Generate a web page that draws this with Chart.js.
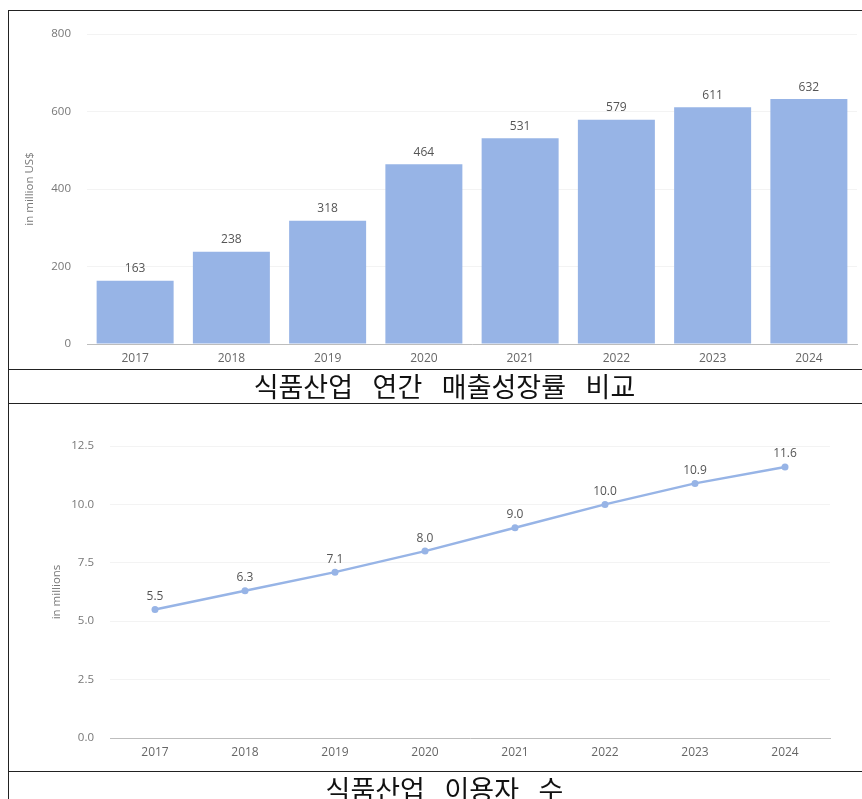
<!DOCTYPE html>
<html lang="ko">
<head>
<meta charset="utf-8">
<script src="https://cdn.jsdelivr.net/npm/chart.js@4/dist/chart.umd.min.js"></script>
<style>
  html, body { margin: 0; padding: 0; background: #fff; overflow: hidden; width: 862px; height: 799px; }
  .box { position: absolute; border-left: 1.5px solid #222; border-top: 1.5px solid #222; box-sizing: border-box; }
  .hline { position: absolute; left: 8px; width: 880px; height: 0; border-top: 1.5px solid #222; }
  .cell { position: absolute; left: 9px; width: 851px; }
  .caption { position: absolute; left: 9px; width: 871px; text-align: center;
             font-family: "Noto Sans CJK KR", sans-serif; font-size: 27px; color: #111;
             word-spacing: 12px; line-height: 34px; }
</style>
</head>
<body>
<div class="box" style="left:8px; top:10px; width:880px; height:800px;"></div>
<div class="hline" style="top:369px;"></div>
<div class="hline" style="top:403px;"></div>
<div class="hline" style="top:771px;"></div>

<div class="cell" style="top:11px; height:358px;"><canvas id="chartVentes"></canvas></div>
<div class="caption" style="top:369px;">식품산업 연간 매출성장률 비교</div>
<div class="cell" style="top:405px; height:366px;"><canvas id="chartUsers"></canvas></div>
<div class="caption" style="top:772px;">식품산업 이용자 수</div>

<script>
"use strict";

// ── données ──
const annees       = ["2017", "2018", "2019", "2020", "2021", "2022", "2023", "2024"];
const ventes       = [163, 238, 318, 464, 531, 579, 611, 632];      // in million US$
const utilisateurs = [5.5, 6.3, 7.1, 8.0, 9.0, 10.0, 10.9, 11.6];   // in millions
const ticksVentes  = [0, 200, 400, 600, 800];
const ticksUsers   = [0, 2.5, 5, 7.5, 10, 12.5];

const BLEU = "#97b4e6";
const FONT = "'Open Sans', 'DejaVu Sans', sans-serif";

Chart.defaults.font.family = FONT;
Chart.defaults.animation = false;

// étiquettes de valeur au-dessus des barres / points
const valeurLabels = {
    id: "valeurLabels",
    afterDatasetsDraw(chart, args, opts) {
        const ctx = chart.ctx;
        const meta = chart.getDatasetMeta(0);
        ctx.save();
        ctx.font = "12px " + FONT;
        ctx.fillStyle = "#555";
        ctx.textAlign = "center";
        ctx.textBaseline = "bottom";
        meta.data.forEach((el, i) => {
            const v = chart.data.datasets[0].data[i];
            ctx.fillText(opts.fmt(v), el.x, el.y - opts.offset);
        });
        ctx.restore();
    }
};

function axeY(ticksArr, titre, largeur, titrePad, fmt) {
    return {
        min: ticksArr[0], max: ticksArr[ticksArr.length - 1],
        afterBuildTicks: s => { s.ticks = ticksArr.map(v => ({ value: v })); },
        afterFit: s => { s.width = largeur; },
        border: { display: false },
        grid: { color: "#f3f3f3", drawTicks: false },
        ticks: { color: "#777", font: { size: 11.5 }, padding: 16, callback: fmt },
        title: { display: true, text: titre, color: "#777", font: { size: 11.5 }, padding: { top: titrePad, bottom: 0 } }
    };
}

function axeX(hauteur) {
    return {
        afterFit: s => { s.height = hauteur; },
        border: { display: true, color: "#bdbdbd", width: 1 },
        grid: { display: false, drawTicks: false },
        ticks: { color: "#666", font: { size: 12 }, padding: 7 }
    };
}

// ═══ graphique 1 : barres ═══
new Chart(document.getElementById("chartVentes"), {
    type: "bar",
    data: {
        labels: annees,
        datasets: [{ data: ventes, backgroundColor: BLEU, borderWidth: 0,
                     barPercentage: 0.8, categoryPercentage: 1.0 }]
    },
    options: {
        responsive: true, maintainAspectRatio: false,
        layout: { padding: { top: 23, right: 3, left: 0, bottom: 0 } },
        plugins: { legend: { display: false }, tooltip: { enabled: false },
                   valeurLabels: { offset: 6, fmt: v => String(v) } },
        scales: {
            x: axeX(25),
            y: axeY(ticksVentes, "in million US$", 78, 14, v => String(v))
        }
    },
    plugins: [valeurLabels]
});

// ═══ graphique 2 : ligne ═══
new Chart(document.getElementById("chartUsers"), {
    type: "line",
    data: {
        labels: annees,
        datasets: [{ data: utilisateurs, borderColor: BLEU, backgroundColor: BLEU,
                     borderWidth: 2.5, pointRadius: 3.5, pointBackgroundColor: BLEU,
                     pointBorderWidth: 0, tension: 0, fill: false }]
    },
    options: {
        responsive: true, maintainAspectRatio: false,
        layout: { padding: { top: 41, right: 30, left: 0, bottom: 0 } },
        plugins: { legend: { display: false }, tooltip: { enabled: false },
                   valeurLabels: { offset: 7, fmt: v => v.toFixed(1) } },
        scales: {
            x: Object.assign(axeX(33), { offset: true }),
            y: axeY(ticksUsers, "in millions", 101, 41, v => v.toFixed(1))
        }
    },
    plugins: [valeurLabels]
});
</script>
</body>
</html>
